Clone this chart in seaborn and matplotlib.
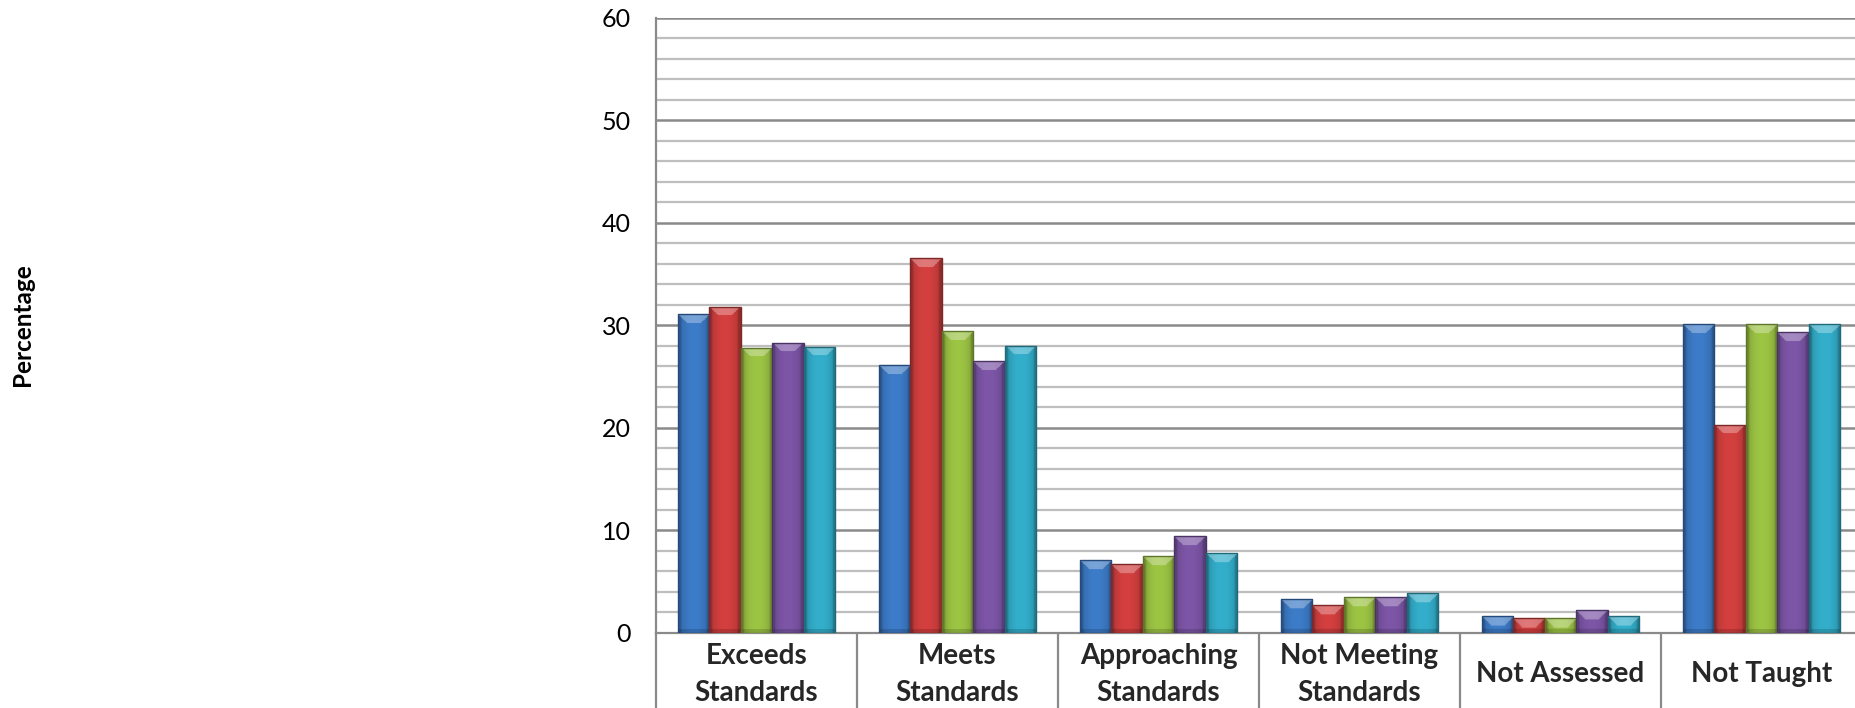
import numpy as np
import pandas as pd
import matplotlib
matplotlib.use("Agg")
import matplotlib.pyplot as plt
import matplotlib.colors as mcolors
from matplotlib.ticker import FixedLocator, MultipleLocator
import seaborn as sns

# Performance categories along the x axis
categories = ["Exceeds\nStandards", "Meets\nStandards", "Approaching\nStandards",
              "Not Meeting\nStandards", "Not Assessed", "Not Taught"]

# Five series per category (percentages)
series_names = ["Series 1", "Series 2", "Series 3", "Series 4", "Series 5"]
series_1 = [31.1, 26.1, 7.1, 3.3, 1.6, 30.1]
series_2 = [31.8, 36.5, 6.7, 2.7, 1.4, 20.3]
series_3 = [27.8, 29.4, 7.5, 3.5, 1.4, 30.1]
series_4 = [28.3, 26.5, 9.4, 3.5, 2.2, 29.3]
series_5 = [27.9, 28.0, 7.8, 3.9, 1.6, 30.1]

y_ticks = [0, 10, 20, 30, 40, 50, 60]
y_label = "Percentage"

bar_colors = ["#3D7CC9", "#D43F3F", "#9DC544", "#7D56A8", "#33AFCC"]

rows = []
for name, vals in zip(series_names, [series_1, series_2, series_3, series_4, series_5]):
    for cat, v in zip(categories, vals):
        rows.append({"category": cat, "series": name, "value": v})
df = pd.DataFrame(rows)

sns.set_theme(style="white")
plt.rcParams["font.family"] = ["Lato", "DejaVu Sans"]

fig = plt.figure(figsize=(18.55, 7.08), dpi=100)
ax = fig.add_axes([656 / 1855, 75.3 / 708, 1206 / 1855, 615.2 / 708])

sns.barplot(data=df, x="category", y="value", hue="series", order=categories,
            hue_order=series_names, palette=bar_colors, saturation=1,
            width=0.78, gap=0, legend=False, ax=ax, zorder=3)

ax.set_xlim(-0.5, len(categories) - 0.5)
ax.set_ylim(y_ticks[0], y_ticks[-1])

# bevelled shading inside every bar, clipped to the bar shape
fig.canvas.draw()
to_px = ax.transData
for patch in list(ax.patches):
    base = np.array(mcolors.to_rgb(patch.get_facecolor()))
    x0, w, h = patch.get_x(), patch.get_width(), patch.get_height()
    (px0, py0), (px1, py1) = to_px.transform([(x0, 0), (x0 + w, h)])
    wpx, hpx = abs(px1 - px0), abs(py1 - py0)
    nx, ny = 48, max(4, int(hpx))
    u = (np.arange(nx) + 0.5) / nx
    vtop = hpx - (np.arange(ny) + 0.5) / ny * hpx  # distance from top in px
    U, V = np.meshgrid(u, vtop)
    dl, dr = U * wpx, (1 - U) * wpx
    shade = 1.0 - 0.22 * np.abs(2 * U - 1) ** 2.2
    rgb = base[None, None, :] * shade[..., None]
    depth = 9.0
    top = (V < depth) & (V < dl) & (V < dr)
    side = (np.minimum(dl, dr) < 3.0) & ~top
    rgb[top] = rgb[top] + (1 - rgb[top]) * 0.30
    rgb[side] = rgb[side] * 0.85
    # darker lower edge
    bottom = (hpx - V) < 4.0
    rgb[bottom] = rgb[bottom] * 0.85
    img = ax.imshow(np.clip(rgb, 0, 1), extent=[x0, x0 + w, 0, h], origin="lower",
                    aspect="auto", interpolation="bilinear", zorder=3.2)
    img.set_clip_path(patch)
    patch.set_facecolor("none")
    patch.set_edgecolor(base * 0.6)
    patch.set_linewidth(1.0)
    patch.set_zorder(3.4)

ax.set_xlim(-0.5, len(categories) - 0.5)
ax.set_ylim(y_ticks[0], y_ticks[-1])

# horizontal gridlines: major every 10, minor every 2
ax.yaxis.set_major_locator(FixedLocator(y_ticks))
ax.yaxis.set_minor_locator(MultipleLocator(2))
ax.set_axisbelow(True)
ax.grid(which="major", axis="y", color="#8A8A8A", linewidth=1.8)
ax.grid(which="minor", axis="y", color="#BEBEBE", linewidth=1.6)
ax.grid(which="both", axis="x", visible=False)

ax.tick_params(axis="y", which="both", length=0, pad=18, labelsize=18, labelcolor="black")

# category divider ticks below the axis
ax.xaxis.set_minor_locator(FixedLocator(np.arange(-0.5, len(categories), 1.0)))
ax.tick_params(axis="x", which="minor", length=60, width=1.6, color="#8A8A8A",
               direction="out", bottom=True)
ax.tick_params(axis="x", which="major", length=0, pad=30, labelsize=20)
for lbl in ax.get_xticklabels():
    lbl.set_fontweight("bold")
    lbl.set_va("center")
    lbl.set_linespacing(1.5)

for side_name in ["top", "right"]:
    ax.spines[side_name].set_visible(False)
for side_name in ["left", "bottom"]:
    ax.spines[side_name].set_color("#8A8A8A")
    ax.spines[side_name].set_linewidth(1.6)

ax.set_xlabel("")
ax.set_ylabel(y_label, fontsize=17.5, fontweight="bold", color="black")
ax.yaxis.label.set_va("center")
ax.yaxis.set_label_coords((23 - 656) / 1206, 0.5)

fig.savefig("out.png", dpi=100)
